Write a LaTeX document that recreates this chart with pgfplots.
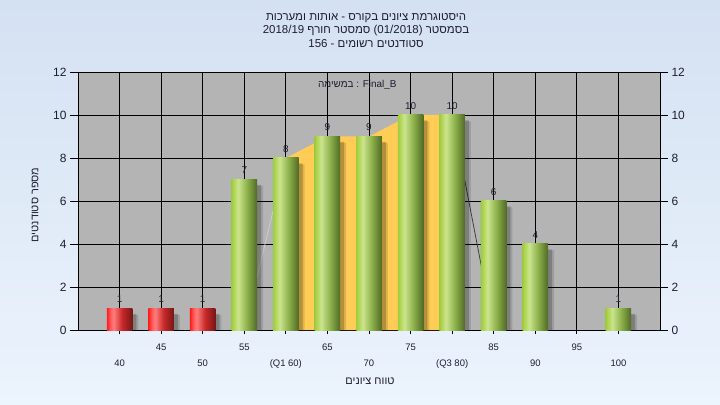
\documentclass[border=0pt]{standalone}
\usepackage{fontspec}
\setmainfont{Liberation Sans}
\newfontfamily\heb[Script=Hebrew]{Liberation Sans}
\TeXXeTstate=1
\usepackage{pgfplots}
\usepackage{pgfplotstable}
\pgfplotsset{compat=1.18}

\definecolor{bgtop}{RGB}{212,225,242}
\definecolor{bgbot}{RGB}{236,244,253}
\definecolor{plotgray}{RGB}{180,180,180}
\definecolor{iqr}{RGB}{255,204,85}
\definecolor{gA}{RGB}{158,204,62}
\definecolor{gB}{RGB}{185,218,100}
\definecolor{gC}{RGB}{203,228,142}
\definecolor{gD}{RGB}{142,178,76}
\definecolor{gE}{RGB}{80,106,38}
\definecolor{rA}{RGB}{255,28,28}
\definecolor{rB}{RGB}{255,90,90}
\definecolor{rC}{RGB}{255,125,125}
\definecolor{rD}{RGB}{200,40,40}
\definecolor{rE}{RGB}{118,22,22}
\definecolor{lbl}{RGB}{30,30,50}

\pgfdeclarehorizontalshading{greenbar}{100bp}{color(0bp)=(gA); color(25bp)=(gA); color(32bp)=(gB); color(38bp)=(gC); color(55bp)=(gD); color(75bp)=(gE); color(100bp)=(gE)}
\pgfdeclarehorizontalshading{redbar}{100bp}{color(0bp)=(rA); color(25bp)=(rA); color(32bp)=(rB); color(38bp)=(rC); color(55bp)=(rD); color(75bp)=(rE); color(100bp)=(rE)}

% grade bins and number of students
\pgfplotstableread{
x v
40 1
45 1
50 1
}\redtab
\pgfplotstableread{
x v
55 7
60 8
65 9
70 9
75 10
80 10
85 6
90 4
100 1
}\greentab
% between Q1 and Q3
\pgfplotstableread{
x v
60 8
65 9
70 9
75 10
80 10
}\iqrtab

\begin{document}
\begin{tikzpicture}
\shade[top color=bgtop, bottom color=bgbot] (0,0) rectangle (720bp,405bp);

\pgfplotsset{
  bars/.style={ybar, bar width=25.5bp, bar shift=0pt, draw=none,
    nodes near coords, point meta=explicit,
    every node near coord/.style={font=\fontsize{10}{12}\selectfont, text=lbl, anchor=south, yshift=2bp}},
  shadow/.style={ybar, bar width=25.5bp, draw=none, fill=black},
}

\begin{axis}[
  at={(78bp,75bp)}, anchor=south west,
  scale only axis, width=582bp, height=258bp,
  xmin=35, xmax=105, ymin=0, ymax=12,
  axis background/.style={fill=plotgray},
  xtick={45,55,...,95},
  extra x ticks={40,50,...,100},
  extra x tick labels={40,50,(Q1 60),70,(Q3 80),90,100},
  extra x tick style={xticklabel style={yshift=-16bp}},
  xticklabel style={font=\fontsize{9.5}{11}\selectfont, text=lbl, yshift=-6bp},
  ytick={0,2,...,12}, yticklabels={},
  grid=major, grid style={black, line width=0.8bp},
  axis line style={black, line width=0.9bp},
  tick style={black, line width=0.8bp},
  tick align=outside, major tick length=4bp,
  xtick pos=left, ytick pos=left,
  /pgf/number format/assume math mode=true,
]
\addplot[fill=iqr, draw=none] table[x=x, y=v] {\iqrtab} \closedcycle;
\addplot[gray!40!white, line width=0.8bp] coordinates {(55,0) (60,8)};
\addplot[black!75, line width=0.8bp] coordinates {(80,10) (85,0)};

\addplot[shadow, bar shift=6bp, fill opacity=0.12] table[x=x, y expr=\thisrow{v}-0.3] {\greentab};
\addplot[shadow, bar shift=4bp, fill opacity=0.2] table[x=x, y expr=\thisrow{v}-0.25] {\greentab};
\addplot[shadow, bar shift=6bp, fill opacity=0.12] table[x=x, y expr=\thisrow{v}-0.3] {\redtab};
\addplot[shadow, bar shift=4bp, fill opacity=0.2] table[x=x, y expr=\thisrow{v}-0.25] {\redtab};

% one plot per bar so that each bar gets its own shading
\pgfplotsinvokeforeach{39:41,44:46,49:51}{
  \addplot[bars, shading=redbar, restrict x to domain=#1]
    table[x=x, y=v, meta=v] {\redtab};
}
\pgfplotsinvokeforeach{54:56,59:61,64:66,69:71,74:76,79:81,84:86,89:91,99:101}{
  \addplot[bars, shading=greenbar, restrict x to domain=#1]
    table[x=x, y=v, meta=v] {\greentab};
}

\node[font=\fontsize{10}{12}\selectfont, text=lbl] at (axis cs:68.6,11.4)
  {{\heb\beginR במשימה\endR} : Final\_B};
\end{axis}

% left scale
\begin{axis}[
  at={(78bp,75bp)}, anchor=south west,
  scale only axis, width=582bp, height=258bp,
  xmin=35, xmax=105, ymin=0, ymax=12,
  axis y line*=left, axis x line=none,
  ytick={0,2,...,12},
  tick align=outside, major tick length=8bp,
  tick style={black, line width=0.8bp},
  axis line style={black, line width=0.9bp},
  yticklabel style={font=\fontsize{12}{14}\selectfont, text=lbl},
  /pgf/number format/assume math mode=true,
]
\end{axis}

% right scale
\begin{axis}[
  at={(78bp,75bp)}, anchor=south west,
  scale only axis, width=582bp, height=258bp,
  xmin=35, xmax=105, ymin=0, ymax=12,
  axis y line*=right, axis x line=none,
  ytick={0,2,...,12},
  tick align=outside, major tick length=8bp,
  tick style={black, line width=0.8bp},
  axis line style={black, line width=0.9bp},
  yticklabel style={font=\fontsize{12}{14}\selectfont, text=lbl},
  /pgf/number format/assume math mode=true,
]
\end{axis}

\begin{scope}[every node/.style={font=\fontsize{11.5}{13}\selectfont\heb, text=lbl}]
\node at (366bp,387bp) {\beginR היסטוגרמת ציונים בקורס - אותות ומערכות\endR};
\node at (366bp,374bp) {\beginR בסמסטר \beginL(01/2018)\endL{} סמסטר חורף \beginL2018/19\endL\endR};
\node at (366bp,361bp) {\beginR סטודנטים רשומים - \beginL156\endL\endR};
\end{scope}

\node[font=\fontsize{11}{12}\selectfont\heb, text=lbl] at (370bp,24bp)
  {\beginR טווח ציונים\endR};
\node[font=\fontsize{11}{12}\selectfont\heb, text=lbl, rotate=90] at (35bp,200bp)
  {\beginR מספר סטודנטים\endR};

\pgfresetboundingbox
\useasboundingbox (0,0) rectangle (720bp,405bp);
\end{tikzpicture}
\end{document}
